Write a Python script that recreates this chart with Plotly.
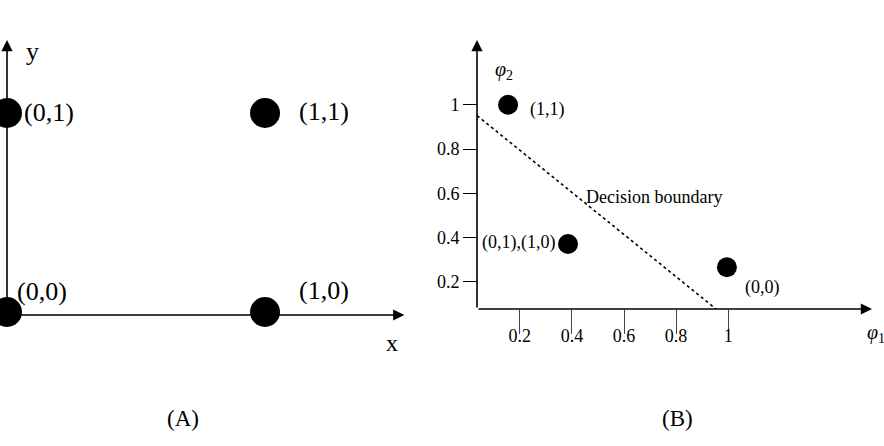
import plotly.graph_objects as go

# ---------------- data ----------------
# Panel A: XOR input points
a_x = [0, 0, 1, 1]
a_y = [0, 1, 0, 1]
a_labels = ["(0,0)", "(0,1)", "(1,0)", "(1,1)"]

# Panel B: points in hidden (phi) space
b_x = [0.155, 0.385, 0.995]
b_y = [1.0, 0.37, 0.265]
b_labels = ["(1,1)", "(0,1),(1,0)", "(0,0)"]

# Decision boundary endpoints
boundary_x = [0.036, 0.953]
boundary_y = [0.951, 0.076]

# Ticks of panel B
tick_vals = [0.2, 0.4, 0.6, 0.8, 1.0]
tick_text = ["0.2", "0.4", "0.6", "0.8", "1"]

FONT = "Liberation Serif"
W, H = 884, 446

fig = go.Figure()

fig.add_trace(go.Scatter(x=a_x, y=a_y, mode="markers", xaxis="x", yaxis="y",
                         marker=dict(size=30, color="black"), cliponaxis=False,
                         showlegend=False, hoverinfo="skip"))
fig.add_trace(go.Scatter(x=boundary_x, y=boundary_y, mode="lines", xaxis="x2", yaxis="y2",
                         line=dict(color="black", width=1.6, dash="dot"),
                         showlegend=False, hoverinfo="skip"))
fig.add_trace(go.Scatter(x=b_x, y=b_y, mode="markers", xaxis="x2", yaxis="y2",
                         marker=dict(size=20, color="black"), cliponaxis=False,
                         showlegend=False, hoverinfo="skip"))

ann = []

def arrow(x0, y0, x1, y1, xr, yr):
    ann.append(dict(x=x1, y=y1, ax=x0, ay=y0, xref=xr, yref=yr, axref=xr, ayref=yr,
                    text="", showarrow=True, arrowhead=2, arrowsize=1.4, arrowwidth=1.6,
                    arrowcolor="black", standoff=0, startstandoff=0))

# Panel A axes
arrow(0, -0.015, 0, 1.367, "x", "y")
arrow(0, -0.015, 1.54, -0.015, "x", "y")
# Panel B axes
arrow(0.0357, 0.076, 0.0357, 1.293, "x2", "y2")
arrow(0.0357, 0.076, 1.552, 0.076, "x2", "y2")

# Panel A point labels (pixel offsets)
a_off = {"(0,0)": (8, 20), "(0,1)": (15, 0), "(1,0)": (32, 21), "(1,1)": (32, 1)}
for x, y, t in zip(a_x, a_y, a_labels):
    dx, dy = a_off[t]
    ann.append(dict(x=x, y=y, xref="x", yref="y", text=t, showarrow=False,
                    xanchor="left", yanchor="middle", xshift=dx, yshift=dy,
                    font=dict(family=FONT, size=26, color="black")))

# Panel B point labels
b_off = {"(1,1)": ("left", 20, -5), "(0,1),(1,0)": ("right", -11, 2), "(0,0)": ("left", 16, -20)}
for x, y, t in zip(b_x, b_y, b_labels):
    xa, dx, dy = b_off[t]
    ann.append(dict(x=x, y=y, xref="x2", yref="y2", text=t, showarrow=False,
                    xanchor=xa, yanchor="middle", xshift=dx, yshift=dy,
                    font=dict(family=FONT, size=18, color="black")))

ann += [
    dict(x=0.1, y=1.307, xref="x", yref="y", text="y", showarrow=False,
         font=dict(family=FONT, size=26, color="black")),
    dict(x=1.492, y=-0.156, xref="x", yref="y", text="x", showarrow=False,
         font=dict(family=FONT, size=24, color="black")),
    dict(x=0.446, y=0.583, xref="x2", yref="y2", text="Decision boundary", showarrow=False,
         xanchor="left", font=dict(family=FONT, size=18, color="black")),
    dict(x=0.138, y=1.157, xref="x2", yref="y2", text="<i>φ</i><sub>2</sub>", showarrow=False,
         font=dict(family=FONT, size=20, color="black")),
    dict(x=1.567, y=-0.0326, xref="x2", yref="y2", text="<i>φ</i><sub>1</sub>", showarrow=False,
         font=dict(family=FONT, size=20, color="black")),
    dict(x=165 / W, y=1 - 433 / H, xref="paper", yref="paper", text="(A)", showarrow=False,
         font=dict(family=FONT, size=23, color="black")),
    dict(x=695 / W, y=1 - 433 / H, xref="paper", yref="paper", text="(B)", showarrow=False,
         font=dict(family=FONT, size=23, color="black")),
]

hidden = dict(visible=False, showgrid=False, zeroline=False)

fig.update_layout(
    width=W, height=H,
    margin=dict(l=0, r=0, t=0, b=0),
    paper_bgcolor="white", plot_bgcolor="rgba(0,0,0,0)",
    showlegend=False,
    xaxis=dict(domain=[0, 0.5], range=[-0.02713, 1.686], **hidden),
    yaxis=dict(domain=[0, 1], range=[-0.6734, 1.5678], **hidden),
    xaxis2=dict(domain=[0.5, 1], range=[-0.0987, 1.598], anchor="free", position=1 - 309 / H,
                showgrid=False, zeroline=False, showline=False,
                tickmode="array", tickvals=tick_vals, ticktext=tick_text,
                ticks="outside", ticklen=24, tickwidth=1, tickcolor="#444",
                ticklabelstandoff=-14,
                tickfont=dict(family=FONT, size=18, color="black")),
    yaxis2=dict(domain=[0, 1], range=[-0.5439, 1.4742], anchor="free", position=477 / W,
                showgrid=False, zeroline=False, showline=False,
                tickmode="array", tickvals=tick_vals, ticktext=tick_text,
                ticks="outside", ticklen=14, tickwidth=1, tickcolor="black",
                tickfont=dict(family=FONT, size=18, color="black")),
    annotations=ann,
)

fig.write_html("out.html")
